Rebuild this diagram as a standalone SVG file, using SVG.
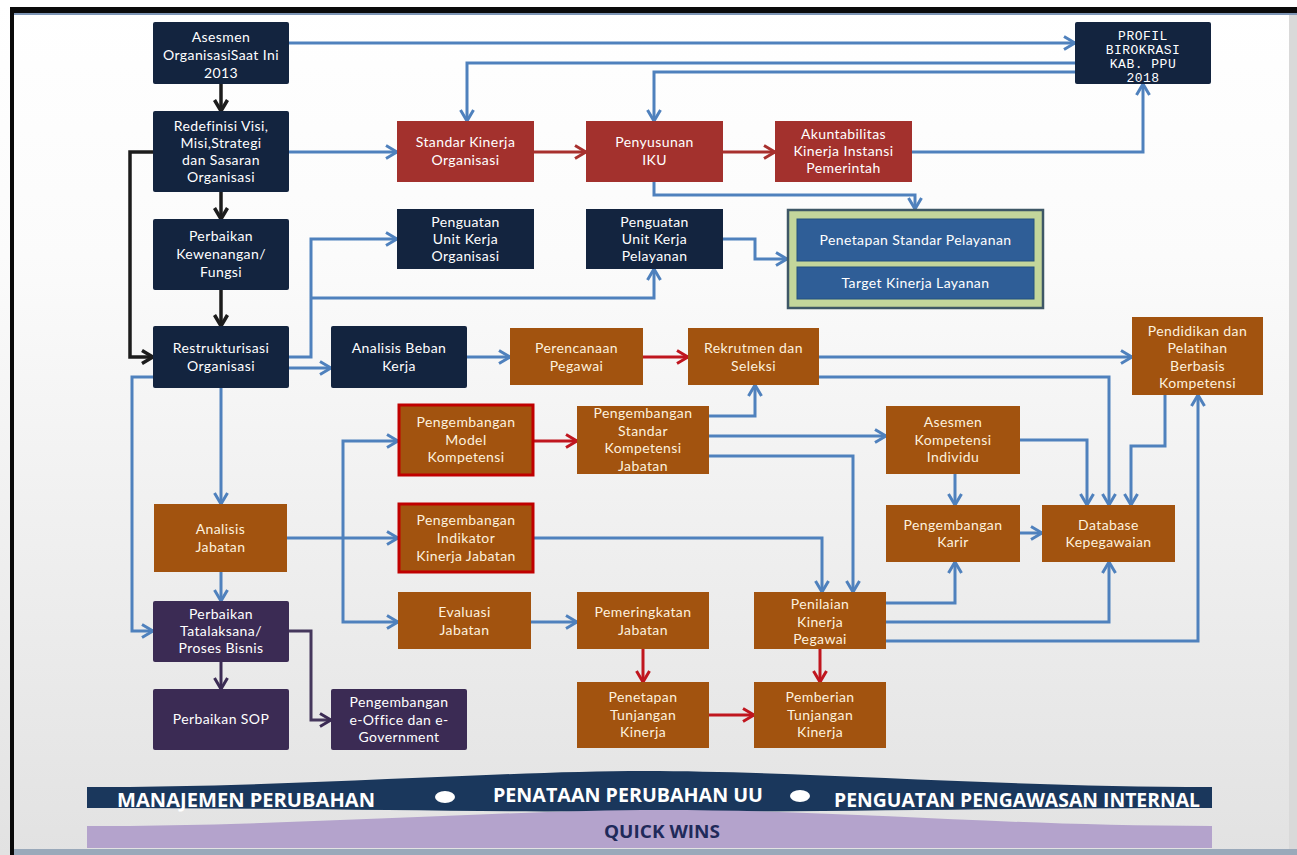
<svg xmlns="http://www.w3.org/2000/svg" width="1297" height="855" viewBox="0 0 1297 855">
<defs>
<linearGradient id="bg" x1="0" y1="0" x2="0" y2="1">
<stop offset="0" stop-color="#ffffff"/>
<stop offset="0.3" stop-color="#fbfbfb"/>
<stop offset="1" stop-color="#e2e2e2"/>
</linearGradient>
<marker id="ab" markerUnits="userSpaceOnUse" markerWidth="14" markerHeight="16" viewBox="0 0 14 16" refX="12" refY="8" orient="auto"><path d="M1,1.5 L12,8 L1,14.5" fill="none" stroke="#4f81bd" stroke-width="3"/></marker>
<marker id="ar" markerUnits="userSpaceOnUse" markerWidth="14" markerHeight="16" viewBox="0 0 14 16" refX="12" refY="8" orient="auto"><path d="M1,1.5 L12,8 L1,14.5" fill="none" stroke="#c0161f" stroke-width="3"/></marker>
<marker id="ad" markerUnits="userSpaceOnUse" markerWidth="14" markerHeight="16" viewBox="0 0 14 16" refX="12" refY="8" orient="auto"><path d="M1,1.5 L12,8 L1,14.5" fill="none" stroke="#a8302e" stroke-width="3"/></marker>
<marker id="ak" markerUnits="userSpaceOnUse" markerWidth="14" markerHeight="16" viewBox="0 0 14 16" refX="12" refY="8" orient="auto"><path d="M1,1.5 L12,8 L1,14.5" fill="none" stroke="#1c1c1c" stroke-width="3.5"/></marker>
<marker id="ap" markerUnits="userSpaceOnUse" markerWidth="14" markerHeight="16" viewBox="0 0 14 16" refX="12" refY="8" orient="auto"><path d="M1,1.5 L12,8 L1,14.5" fill="none" stroke="#3b2b54" stroke-width="3"/></marker>
<style>
.nv{fill:#13243f}
.rd{fill:#a3312d}
.or{fill:#a2530f}
.ob{fill:#a2530f;stroke:#c00000;stroke-width:3}
.pu{fill:#3b2b54}
.bl{fill:#2f5e97;stroke:#25507f;stroke-width:1}
text{font-family:Lato,"Open Sans","Liberation Sans",sans-serif;font-size:14px;letter-spacing:0.4px;fill:#ffffff;text-anchor:middle}
.to{fill:#fdf1de}
.mono{font-family:"Liberation Mono","DejaVu Sans Mono",monospace;font-size:13px;letter-spacing:0.5px}
.ban{font-family:"Open Sans","Liberation Sans",sans-serif;font-weight:bold;font-size:19px;letter-spacing:0;text-anchor:start}
.cb{fill:none;stroke:#4f81bd;stroke-width:3;marker-end:url(#ab)}
.cr{fill:none;stroke:#c0161f;stroke-width:3;marker-end:url(#ar)}
.cd{fill:none;stroke:#a8302e;stroke-width:3;marker-end:url(#ad)}
.ck{fill:none;stroke:#1c1c1c;stroke-width:3.5;marker-end:url(#ak)}
.cp{fill:none;stroke:#3b2b54;stroke-width:3;marker-end:url(#ap)}
</style>
</defs>
<rect x="0" y="0" width="1297" height="855" fill="url(#bg)"/>
<rect x="0" y="0" width="1297" height="7" fill="#ffffff"/>
<rect x="10" y="7" width="1287" height="6" fill="#0a0a0a"/>
<rect x="10" y="13" width="1287" height="2" fill="#7d95b5"/>
<rect x="10" y="7" width="4" height="848" fill="#0a0a0a"/>
<rect x="1289" y="15" width="8" height="840" fill="#d9d9d9"/>
<rect x="14" y="849" width="1283" height="6" fill="#9aa9ba"/>

<g id="banner">
<path d="M87,787 C300,787 500,771 645,771 C800,771 1000,787 1212,787 L1212,808 C1000,808 800,812 645,812 C500,812 300,808 87,808 Z" fill="#1a375c"/>
<path d="M87,826 C300,826 500,810 660,810 C850,810 1000,826 1212,826 L1212,848 L87,848 Z" fill="#b4a3cc"/>
<ellipse cx="445" cy="797" rx="10" ry="6" fill="#ffffff"/>
<ellipse cx="800" cy="796" rx="10" ry="6" fill="#ffffff"/>
<text class="ban" x="117" y="807" textLength="258" lengthAdjust="spacingAndGlyphs">MANAJEMEN PERUBAHAN</text>
<text class="ban" x="493" y="802" textLength="270" lengthAdjust="spacingAndGlyphs">PENATAAN PERUBAHAN UU</text>
<text class="ban" x="834" y="807" textLength="366" lengthAdjust="spacingAndGlyphs">PENGUATAN PENGAWASAN INTERNAL</text>
<text class="ban" x="604" y="838" textLength="116" lengthAdjust="spacingAndGlyphs" style="fill:#1f2a5a;font-size:17px">QUICK WINS</text>
</g>

<g id="connectors">
<path class="cb" d="M289,43 H1075"/>
<path class="cb" d="M1075,63 H467 V121"/>
<path class="cb" d="M1075,72 H654 V121"/>
<path class="cb" d="M289,152 H397"/>
<path class="cd" d="M534,152 H586"/>
<path class="cd" d="M723,152 H775"/>
<path class="cb" d="M912,152 H1143 V84"/>
<path class="cb" d="M654,182 V195 H915 V209"/>
<path class="ck" d="M221,84 V111"/>
<path class="ck" d="M221,192 V219"/>
<path class="ck" d="M221,290 V326"/>
<path class="ck" d="M153,152 H130 V357 H153"/>
<path class="cb" d="M289,357 H311 V239 H397"/>
<path class="cb" d="M311,298 H654 V269"/>
<path class="cb" d="M289,368 H331"/>
<path class="cb" d="M467,357 H510"/>
<path class="cr" d="M643,357 H688"/>
<path class="cb" d="M819,357 H1132"/>
<path class="cb" d="M819,377 H1109 V505"/>
<path class="cb" d="M723,239 H755 V259 H787"/>
<path class="cb" d="M221,388 V504"/>
<path class="cb" d="M153,377 H132 V631 H153"/>
<path class="cb" d="M221,572 V601"/>
<path class="cb" d="M287,538 H398"/>
<path class="cb" d="M343,538 V441 H398"/>
<path class="cb" d="M343,538 V622 H398"/>
<path class="cr" d="M534,441 H577"/>
<path class="cb" d="M709,416 H755 V385"/>
<path class="cb" d="M709,436 H886"/>
<path class="cb" d="M709,456 H853 V592"/>
<path class="cb" d="M534,538 H822 V592"/>
<path class="cb" d="M955,474 V505"/>
<path class="cb" d="M1020,533 H1042"/>
<path class="cb" d="M1020,440 H1087 V505"/>
<path class="cb" d="M1165,395 V446 H1131 V505"/>
<path class="cb" d="M886,603 H955 V562"/>
<path class="cb" d="M886,622 H1109 V562"/>
<path class="cb" d="M886,641 H1198 V395"/>
<path class="cb" d="M531,622 H577"/>
<path class="cr" d="M643,649 V682"/>
<path class="cr" d="M820,649 V682"/>
<path class="cr" d="M709,715 H754"/>
<path class="cp" d="M221,662 V689"/>
<path class="cp" d="M289,631 H311 V720 H331" style="stroke:#45375c"/>
</g>

<g id="n1"><rect class="nv" x="153" y="22" width="136" height="62" rx="2"/><text x="221" y="42">Asesmen</text><text x="221" y="60">OrganisasiSaat Ini</text><text x="221" y="78">2013</text></g>
<g id="n2"><rect class="nv" x="153" y="111" width="136" height="81" rx="2"/><text x="221" y="131">Redefinisi Visi,</text><text x="221" y="148">Misi,Strategi</text><text x="221" y="165">dan Sasaran</text><text x="221" y="182">Organisasi</text></g>
<g id="n3"><rect class="nv" x="153" y="219" width="136" height="71" rx="2"/><text x="221" y="241">Perbaikan</text><text x="221" y="259">Kewenangan/</text><text x="221" y="277">Fungsi</text></g>
<g id="n4"><rect class="nv" x="153" y="326" width="136" height="62" rx="2"/><text x="221" y="353">Restrukturisasi</text><text x="221" y="371">Organisasi</text></g>
<g id="n5"><rect class="nv" x="331" y="326" width="136" height="62" rx="2"/><text x="399" y="353">Analisis Beban</text><text x="399" y="371">Kerja</text></g>
<g id="n6"><rect class="rd" x="397" y="121" width="137" height="61"/><text x="465.5" y="147">Standar Kinerja</text><text x="465.5" y="165">Organisasi</text></g>
<g id="n7"><rect class="rd" x="586" y="121" width="137" height="61"/><text x="654.5" y="147">Penyusunan</text><text x="654.5" y="165">IKU</text></g>
<g id="n8"><rect class="rd" x="775" y="121" width="137" height="61"/><text x="843.5" y="139">Akuntabilitas</text><text x="843.5" y="156">Kinerja Instansi</text><text x="843.5" y="173">Pemerintah</text></g>
<g id="n9"><rect class="nv" x="1075" y="22" width="136" height="62" rx="2"/><text class="mono" x="1143" y="40">PROFIL</text><text class="mono" x="1143" y="54">BIROKRASI</text><text class="mono" x="1143" y="68">KAB. PPU</text><text class="mono" x="1143" y="82">2018</text></g>
<g id="n10"><rect class="nv" x="397" y="209" width="137" height="60"/><text x="465.5" y="227">Penguatan</text><text x="465.5" y="244">Unit Kerja</text><text x="465.5" y="261">Organisasi</text></g>
<g id="n11"><rect class="nv" x="586" y="209" width="137" height="60"/><text x="654.5" y="227">Penguatan</text><text x="654.5" y="244">Unit Kerja</text><text x="654.5" y="261">Pelayanan</text></g>
<g id="n12"><rect x="788" y="210" width="255" height="98" fill="#c3d69b" stroke="#3e5766" stroke-width="2.5"/>
<rect class="bl" x="797" y="219" width="237" height="42"/><text x="915.5" y="245">Penetapan Standar Pelayanan</text>
<rect class="bl" x="797" y="267" width="237" height="32"/><text x="915.5" y="288">Target Kinerja Layanan</text></g>
<g id="n13"><rect class="or" x="1132" y="317" width="131" height="78"/><text class="to" x="1197.5" y="336">Pendidikan dan</text><text class="to" x="1197.5" y="353">Pelatihan</text><text class="to" x="1197.5" y="371">Berbasis</text><text class="to" x="1197.5" y="388">Kompetensi</text></g>
<g id="n14"><rect class="or" x="510" y="328" width="133" height="57"/><text class="to" x="576.5" y="353">Perencanaan</text><text class="to" x="576.5" y="371">Pegawai</text></g>
<g id="n15"><rect class="or" x="688" y="328" width="131" height="57"/><text class="to" x="753.5" y="353">Rekrutmen dan</text><text class="to" x="753.5" y="371">Seleksi</text></g>
<g id="n16"><rect class="ob" x="399" y="405" width="134" height="70"/><text class="to" x="466" y="427">Pengembangan</text><text class="to" x="466" y="445">Model</text><text class="to" x="466" y="462">Kompetensi</text></g>
<g id="n17"><rect class="or" x="577" y="406" width="132" height="68"/><text class="to" x="643" y="418">Pengembangan</text><text class="to" x="643" y="435.5">Standar</text><text class="to" x="643" y="453">Kompetensi</text><text class="to" x="643" y="470.5">Jabatan</text></g>
<g id="n18"><rect class="or" x="886" y="406" width="134" height="68"/><text class="to" x="953" y="427">Asesmen</text><text class="to" x="953" y="445">Kompetensi</text><text class="to" x="953" y="462">Individu</text></g>
<g id="n19"><rect class="or" x="886" y="505" width="134" height="57"/><text class="to" x="953" y="530">Pengembangan</text><text class="to" x="953" y="547">Karir</text></g>
<g id="n20"><rect class="or" x="1042" y="505" width="133" height="57"/><text class="to" x="1108.5" y="530">Database</text><text class="to" x="1108.5" y="547">Kepegawaian</text></g>
<g id="n21"><rect class="or" x="154" y="504" width="133" height="68"/><text class="to" x="220.5" y="534">Analisis</text><text class="to" x="220.5" y="552">Jabatan</text></g>
<g id="n22"><rect class="ob" x="399" y="504" width="134" height="68"/><text class="to" x="466" y="525">Pengembangan</text><text class="to" x="466" y="543">Indikator</text><text class="to" x="466" y="561">Kinerja Jabatan</text></g>
<g id="n23"><rect class="pu" x="153" y="601" width="136" height="61" rx="2"/><text x="221" y="619">Perbaikan</text><text x="221" y="636">Tatalaksana/</text><text x="221" y="653">Proses Bisnis</text></g>
<g id="n24"><rect class="pu" x="153" y="689" width="136" height="61" rx="2"/><text x="221" y="724">Perbaikan SOP</text></g>
<g id="n25"><rect class="pu" x="331" y="689" width="136" height="61" rx="2"/><text x="399" y="707">Pengembangan</text><text x="399" y="725">e-Office dan e-</text><text x="399" y="742">Government</text></g>
<g id="n26"><rect class="or" x="398" y="592" width="133" height="57"/><text class="to" x="464.5" y="617">Evaluasi</text><text class="to" x="464.5" y="635">Jabatan</text></g>
<g id="n27"><rect class="or" x="577" y="592" width="132" height="57"/><text class="to" x="643" y="617">Pemeringkatan</text><text class="to" x="643" y="635">Jabatan</text></g>
<g id="n28"><rect class="or" x="754" y="592" width="132" height="57"/><text class="to" x="820" y="609">Penilaian</text><text class="to" x="820" y="627">Kinerja</text><text class="to" x="820" y="644">Pegawai</text></g>
<g id="n29"><rect class="or" x="577" y="682" width="132" height="66"/><text class="to" x="643" y="702">Penetapan</text><text class="to" x="643" y="720">Tunjangan</text><text class="to" x="643" y="737">Kinerja</text></g>
<g id="n30"><rect class="or" x="754" y="682" width="132" height="66"/><text class="to" x="820" y="702">Pemberian</text><text class="to" x="820" y="720">Tunjangan</text><text class="to" x="820" y="737">Kinerja</text></g>
</svg>
